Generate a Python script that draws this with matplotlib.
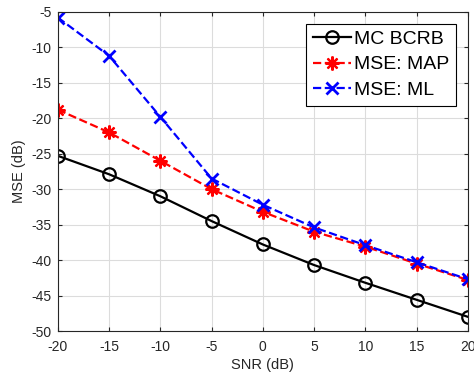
import matplotlib
matplotlib.use("Agg")
import matplotlib.pyplot as plt

snr = [-20, -15, -10, -5, 0, 5, 10, 15, 20]
bcrb = [-25.3, -27.9, -31.0, -34.5, -37.8, -40.7, -43.2, -45.6, -48.0]
mse_map = [-18.8, -22.0, -26.0, -30.0, -33.2, -36.0, -38.1, -40.5, -42.8]
mse_ml = [-5.8, -11.2, -19.8, -28.5, -32.2, -35.4, -37.9, -40.3, -42.7]
labels = ["MC BCRB", "MSE: MAP", "MSE: ML"]

plt.rcParams['font.family'] = ['Liberation Sans', 'DejaVu Sans']
plt.rcParams['axes.unicode_minus'] = False
fig = plt.figure(figsize=(4.74, 3.82), dpi=100)
ax = fig.add_axes([0.122, 0.1335, 0.865, 0.8355])

ax.plot(snr, bcrb, '-', color='black', lw=1.6, marker='o', ms=9,
        mfc='none', mew=1.6, label=labels[0])
ax.plot(snr, mse_map, '--', color='red', lw=1.6, marker=(8, 2, 0), ms=10,
        mew=1.6, label=labels[1])
ax.plot(snr, mse_ml, '--', color='blue', lw=1.6, marker='x', ms=9,
        mew=2.0, label=labels[2])

ax.set_xlim(-20, 20)
ax.set_ylim(-50, -5)
ax.set_xticks(range(-20, 21, 5))
ax.set_yticks(range(-50, -4, 5))
ax.grid(True, color='#dcdcdc', lw=0.8)
ax.set_axisbelow(True)
for s in ax.spines.values():
    s.set_color('#262626')
    s.set_linewidth(0.8)
ax.tick_params(direction='in', colors='#262626', labelsize=10, length=3,
               top=True, right=True)
ax.tick_params(axis='x', pad=6.5)
ax.tick_params(axis='y', pad=4.5)
ax.set_xlabel('SNR (dB)', fontsize=10.5, color='#262626', labelpad=3)
ax.set_ylabel('MSE (dB)', fontsize=10.5, color='#262626', labelpad=4)

leg = ax.legend(loc='upper right', fontsize=14, fancybox=False,
                edgecolor='black', framealpha=1, borderpad=0.35,
                handlelength=1.95, handletextpad=0.15, labelspacing=0.4,
                borderaxespad=0.6)
leg.get_frame().set_linewidth(0.8)

fig.savefig('out.png', dpi=100)
